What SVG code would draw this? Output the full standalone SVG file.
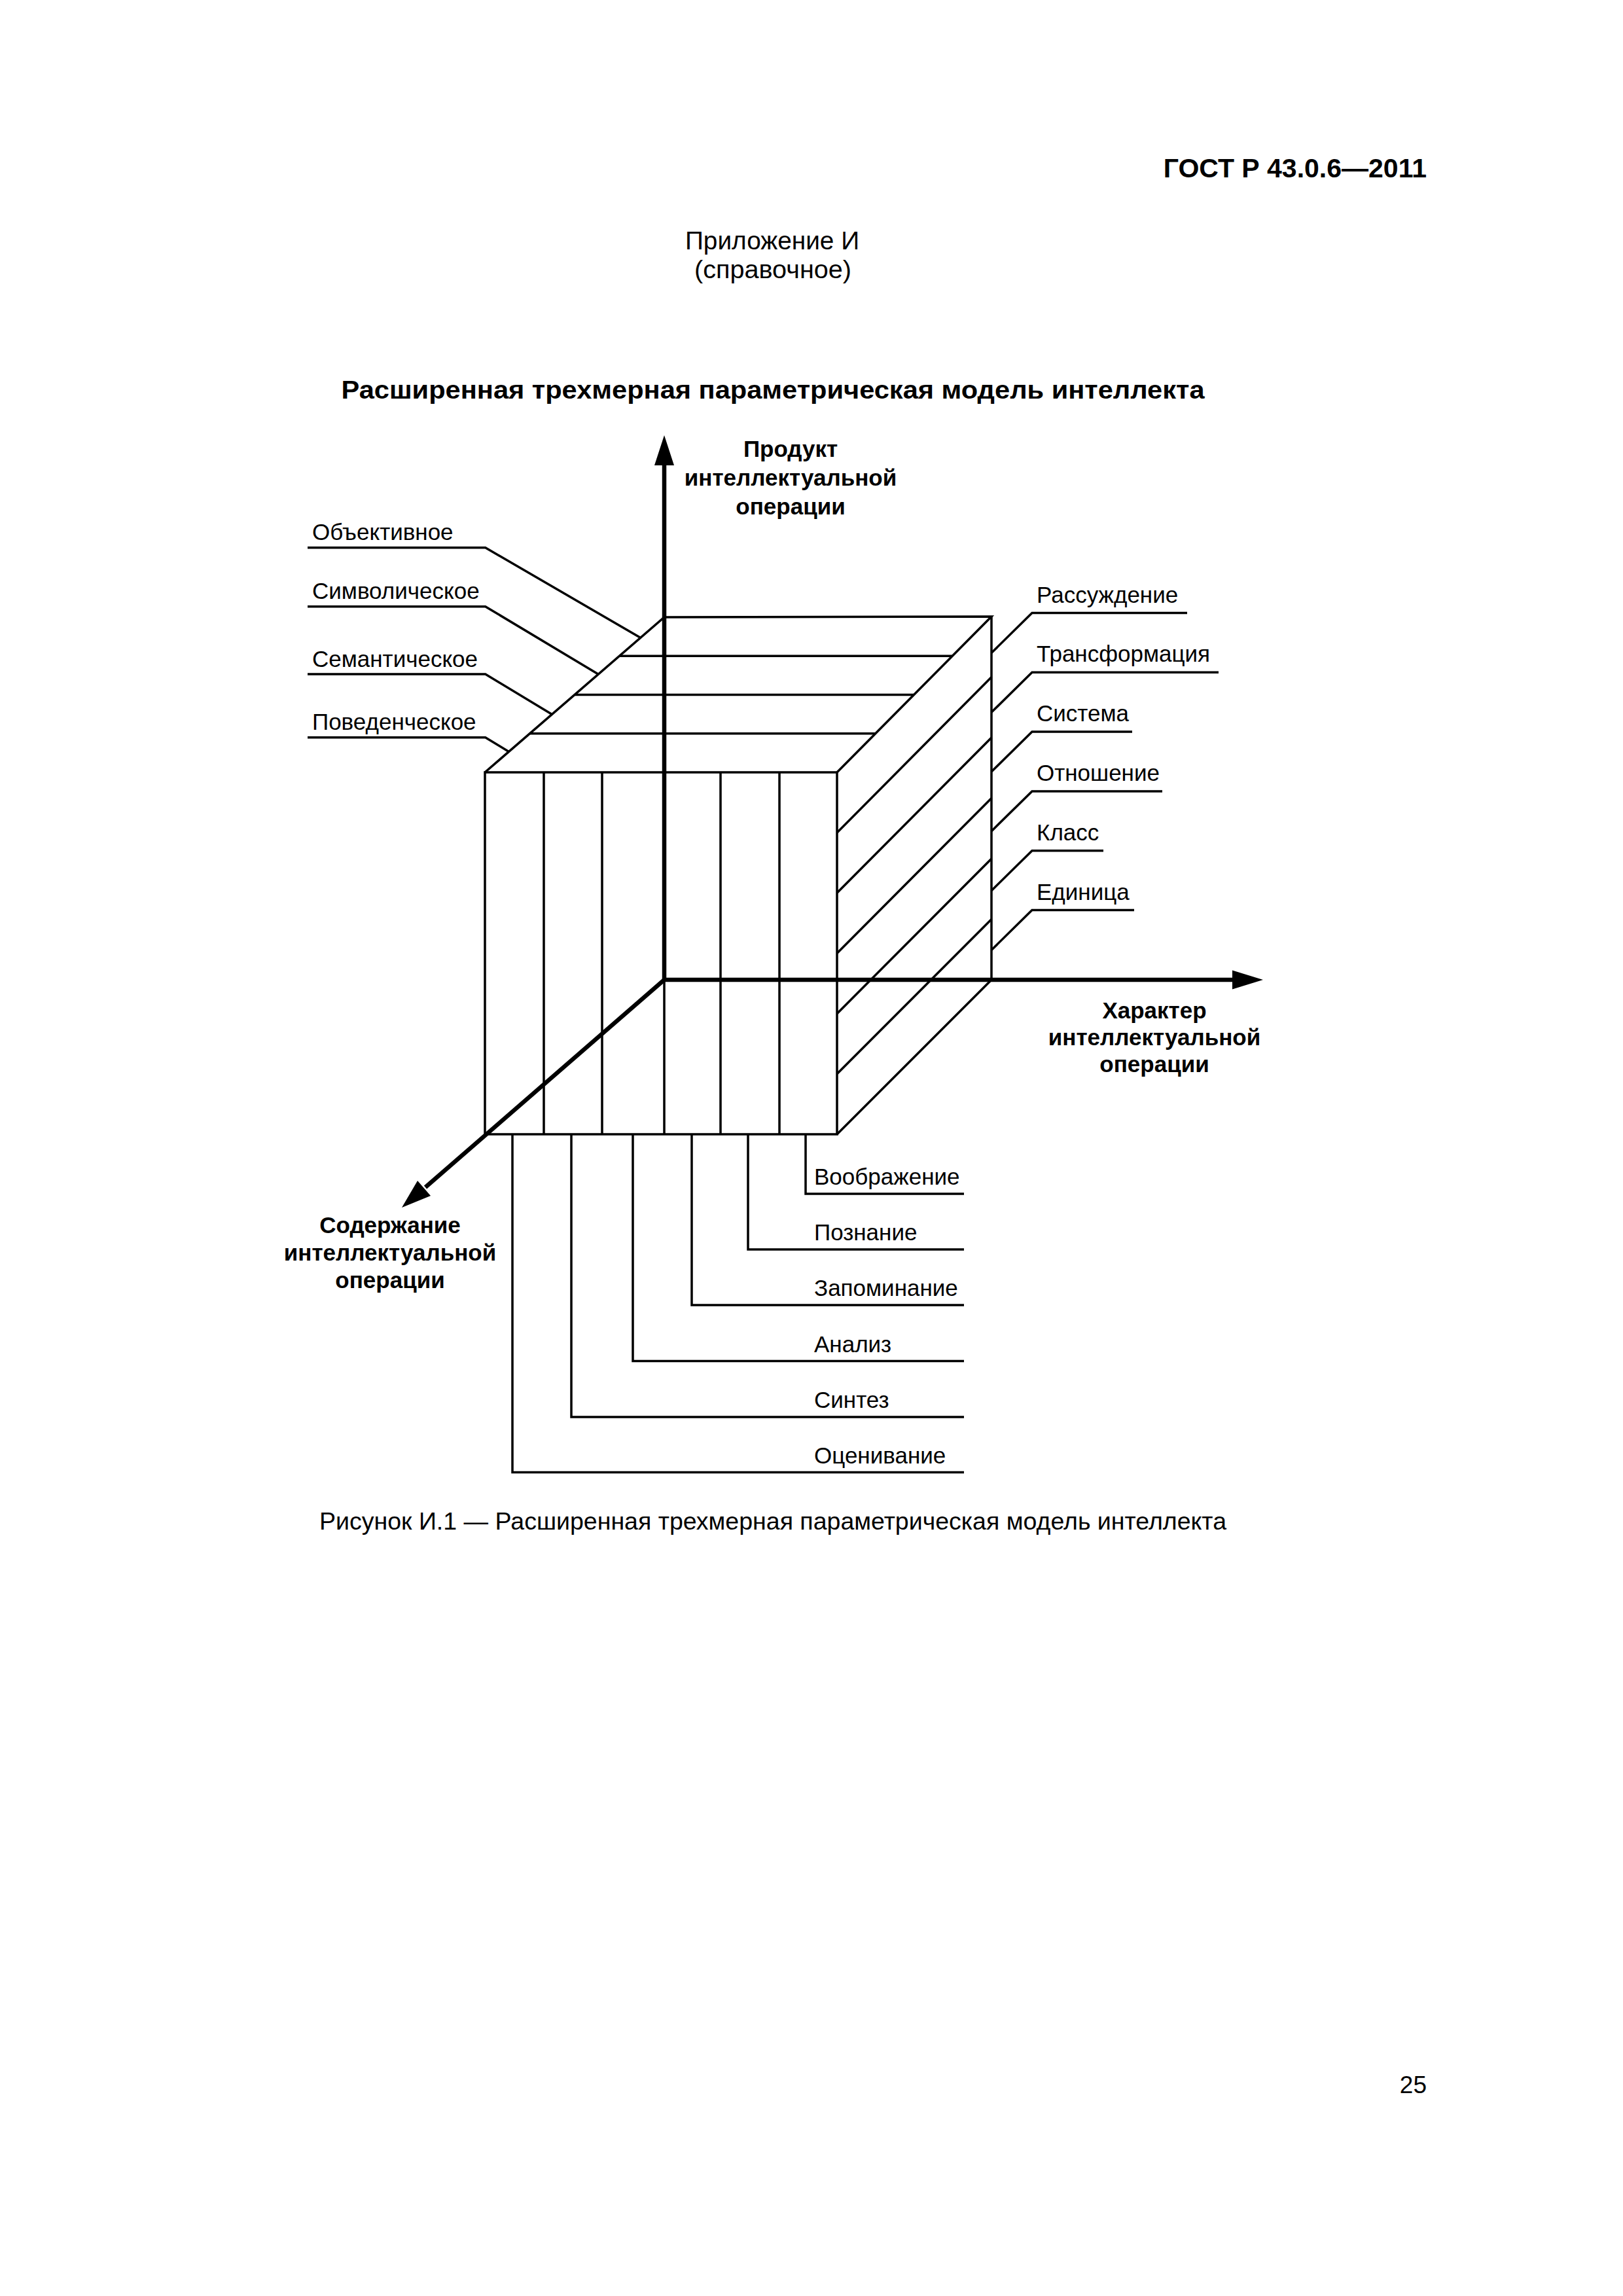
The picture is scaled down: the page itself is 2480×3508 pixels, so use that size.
<svg xmlns="http://www.w3.org/2000/svg" width="2480" height="3508" viewBox="0 0 2480 3508">
<style>
text{font-family:"Liberation Sans",Arial,sans-serif;fill:#000}
.lbl{font-size:35px}
.ax{font-size:35px;font-weight:bold;text-anchor:middle}
.thin{stroke:#000;stroke-width:3.5;fill:none;stroke-linejoin:miter}
.thick{stroke:#000;stroke-width:6.5;fill:none}
.head{fill:#000;stroke:none}
</style>
<rect width="2480" height="3508" fill="#fff"/>

<g id="page-header">
<text x="2180" y="271" font-size="41" font-weight="bold" text-anchor="end">ГОСТ Р 43.0.6—2011</text>
<text x="1180" y="381" font-size="38" text-anchor="middle" textLength="266" lengthAdjust="spacingAndGlyphs">Приложение И</text>
<text x="1181" y="425" font-size="38" text-anchor="middle" textLength="240" lengthAdjust="spacingAndGlyphs">(справочное)</text>
<text x="1181" y="609" font-size="39" font-weight="bold" text-anchor="middle" textLength="1319" lengthAdjust="spacingAndGlyphs">Расширенная трехмерная параметрическая модель интеллекта</text>
</g>

<g id="cube">
<!-- front face -->
<rect class="thin" x="741" y="1180" width="538" height="553"/>
<path class="thin" d="M831 1180V1733M920 1180V1733M1015 1180V1733M1101 1180V1733M1191 1180V1733"/>
<!-- top face -->
<path class="thin" d="M741 1180L1015 943L1515 942L1279 1180"/>
<path class="thin" d="M946.5 1002.25H1455.3M878 1061.5H1396.5M809.5 1120.75H1337.75"/>
<!-- right face -->
<path class="thin" d="M1515 942V1497M1279 1733L1515 1497"/>
<path class="thin" d="M1279 1272.2L1515 1034.5M1279 1364.3L1515 1127M1279 1456.5L1515 1219.5M1279 1548.7L1515 1312M1279 1640.8L1515 1404.5"/>
</g>

<g id="axes">
<path class="thick" d="M1015 1497V708"/>
<polygon class="head" points="1015,665 1000,711 1030,711"/>
<path class="thick" d="M1015 1497H1885"/>
<polygon class="head" points="1930,1497 1883,1482.5 1883,1511.5"/>
<path class="thick" d="M1015 1497L650 1814"/>
<polygon class="head" points="614,1845 638,1804 658,1827"/>
</g>

<g id="connectors">
<polyline class="thin" points="470,836.7 741.7,836.7 978,974"/>
<polyline class="thin" points="470,926.7 741.7,926.7 914,1030"/>
<polyline class="thin" points="470,1030 741.7,1030 843.5,1091.5"/>
<polyline class="thin" points="470,1126.7 741.7,1126.7 777.5,1148.5"/>

<polyline class="thin" points="1515,997.5 1577,936.5 1814,936.5"/>
<polyline class="thin" points="1515,1088.3 1577,1027.3 1862,1027.3"/>
<polyline class="thin" points="1515,1179.1 1577,1118.1 1730,1118.1"/>
<polyline class="thin" points="1515,1269.9 1577,1208.9 1776,1208.9"/>
<polyline class="thin" points="1515,1360.7 1577,1299.7 1686,1299.7"/>
<polyline class="thin" points="1515,1451.5 1577,1390.5 1733,1390.5"/>

<polyline class="thin" points="1231,1733 1231,1824 1473,1824"/>
<polyline class="thin" points="1143,1733 1143,1909 1473,1909"/>
<polyline class="thin" points="1057,1733 1057,1994 1473,1994"/>
<polyline class="thin" points="967,1733 967,2079.5 1473,2079.5"/>
<polyline class="thin" points="873,1733 873,2165 1473,2165"/>
<polyline class="thin" points="783,1733 783,2249.5 1473,2249.5"/>
</g>

<g id="label-objective"><text class="lbl" x="477" y="825">Объективное</text></g>
<g id="label-symbolic"><text class="lbl" x="477" y="915">Символическое</text></g>
<g id="label-semantic"><text class="lbl" x="477" y="1019">Семантическое</text></g>
<g id="label-behavioral"><text class="lbl" x="477" y="1115">Поведенческое</text></g>

<g id="label-reasoning"><text class="lbl" x="1584" y="921">Рассуждение</text></g>
<g id="label-transformation"><text class="lbl" x="1584" y="1011">Трансформация</text></g>
<g id="label-system"><text class="lbl" x="1584" y="1102">Система</text></g>
<g id="label-relation"><text class="lbl" x="1584" y="1193">Отношение</text></g>
<g id="label-class"><text class="lbl" x="1584" y="1284">Класс</text></g>
<g id="label-unit"><text class="lbl" x="1584" y="1375">Единица</text></g>

<g id="label-imagination"><text class="lbl" x="1244" y="1810">Воображение</text></g>
<g id="label-cognition"><text class="lbl" x="1244" y="1895">Познание</text></g>
<g id="label-memory"><text class="lbl" x="1244" y="1980">Запоминание</text></g>
<g id="label-analysis"><text class="lbl" x="1244" y="2066">Анализ</text></g>
<g id="label-synthesis"><text class="lbl" x="1244" y="2151">Синтез</text></g>
<g id="label-evaluation"><text class="lbl" x="1244" y="2236">Оценивание</text></g>

<g id="axis-label-product">
<text class="ax" x="1208" y="698">Продукт</text>
<text class="ax" x="1208" y="742">интеллектуальной</text>
<text class="ax" x="1208" y="786">операции</text>
</g>
<g id="axis-label-character">
<text class="ax" x="1764" y="1556">Характер</text>
<text class="ax" x="1764" y="1597">интеллектуальной</text>
<text class="ax" x="1764" y="1638">операции</text>
</g>
<g id="axis-label-content">
<text class="ax" x="596" y="1884">Содержание</text>
<text class="ax" x="596" y="1926">интеллектуальной</text>
<text class="ax" x="596" y="1968">операции</text>
</g>

<g id="caption">
<text x="1181" y="2337" font-size="37" text-anchor="middle" textLength="1386" lengthAdjust="spacingAndGlyphs">Рисунок И.1 — Расширенная трехмерная параметрическая модель интеллекта</text>
</g>
<g id="page-number"><text x="2180" y="3198" font-size="37" text-anchor="end">25</text></g>
</svg>
